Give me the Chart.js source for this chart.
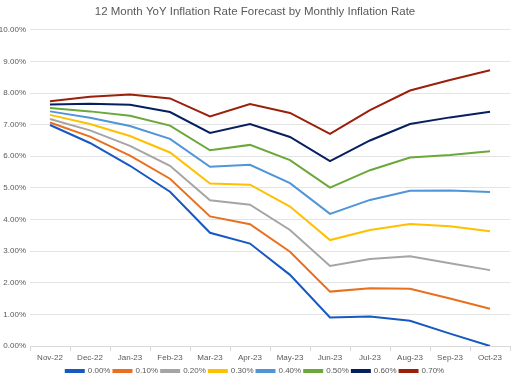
<!DOCTYPE html>
<html>
<head>
<meta charset="utf-8">
<script src="https://cdn.jsdelivr.net/npm/chart.js@4/dist/chart.umd.min.js"></script>
<style>
  html, body { margin: 0; padding: 0; background: #fff; }
  #wrap { width: 512px; height: 385px; }
</style>
</head>
<body>
<div id="wrap"><canvas id="chart"></canvas></div>
<script>
const months = ['Nov-22', 'Dec-22', 'Jan-23', 'Feb-23', 'Mar-23', 'Apr-23', 'May-23', 'Jun-23', 'Jul-23', 'Aug-23', 'Sep-23', 'Oct-23'];

// forecast per monthly rate (values in %)
const rate000 = [6.99, 6.42, 5.70, 4.88, 3.58, 3.24, 2.25, 0.90, 0.93, 0.80, 0.39, 0.00];
const rate010 = [7.07, 6.62, 6.02, 5.29, 4.10, 3.85, 2.98, 1.72, 1.83, 1.81, 1.50, 1.18];
const rate020 = [7.18, 6.82, 6.33, 5.70, 4.61, 4.47, 3.67, 2.53, 2.75, 2.84, 2.62, 2.40];
const rate030 = [7.31, 7.02, 6.64, 6.12, 5.14, 5.10, 4.41, 3.35, 3.67, 3.86, 3.79, 3.63];
const rate040 = [7.42, 7.22, 6.96, 6.55, 5.67, 5.73, 5.15, 4.18, 4.62, 4.91, 4.92, 4.87];
const rate050 = [7.53, 7.42, 7.28, 6.97, 6.19, 6.36, 5.88, 5.01, 5.56, 5.96, 6.04, 6.16];
const rate060 = [7.64, 7.66, 7.63, 7.40, 6.74, 7.02, 6.61, 5.85, 6.50, 7.02, 7.23, 7.41];
const rate070 = [7.74, 7.88, 7.95, 7.83, 7.26, 7.65, 7.37, 6.71, 7.46, 8.08, 8.41, 8.72];

const seriesLabels = ['0.00%', '0.10%', '0.20%', '0.30%', '0.40%', '0.50%', '0.60%', '0.70%'];
const seriesData = [rate000, rate010, rate020, rate030, rate040, rate050, rate060, rate070];
const colors = ['#1659c2', '#e8701f', '#a5a5a5', '#ffc000', '#4f95d8', '#6aa83a', '#061f5f', '#9a200c'];

const font = { family: '"Liberation Sans", Arial, sans-serif', size: 8 };
const textColor = '#595959';

new Chart(document.getElementById('chart'), {
    type: 'line',
    data: {
        labels: months,
        datasets: seriesData.map((d, i) => ({
            label: seriesLabels[i],
            data: d,
            borderColor: colors[i],
            backgroundColor: colors[i],
            borderWidth: 2,
            pointRadius: 0,
            tension: 0
        }))
    },
    options: {
        responsive: true,
        maintainAspectRatio: false,
        animation: false,
        layout: { padding: { left: 0, right: 2, top: 0, bottom: 0 } },
        plugins: {
            title: {
                display: true,
                text: '12 Month YoY Inflation Rate Forecast by Monthly Inflation Rate',
                color: textColor,
                font: { family: font.family, size: 11.5, weight: 'normal' },
                padding: { top: 5, bottom: 11 }
            },
            legend: {
                position: 'bottom',
                labels: {
                    color: textColor,
                    font: font,
                    boxWidth: 18,
                    boxHeight: 2,
                    padding: 3
                }
            },
            tooltip: { enabled: false }
        },
        scales: {
            x: {
                offset: true,
                grid: { offset: true, drawOnChartArea: false, color: '#d9d9d9', tickLength: 5 },
                border: { color: '#d9d9d9' },
                ticks: { color: textColor, font: font, maxRotation: 0, autoSkip: false, padding: 2 },
                afterFit: s => { s.height = 18; }
            },
            y: {
                min: 0,
                max: 10,
                grid: { color: '#e3e3e3', drawTicks: false },
                border: { display: false },
                ticks: {
                    stepSize: 1,
                    color: textColor,
                    font: font,
                    padding: 4,
                    callback: v => v.toFixed(2) + '%'
                },
                afterFit: s => { s.width = 30; }
            }
        }
    }
});
</script>
</body>
</html>
